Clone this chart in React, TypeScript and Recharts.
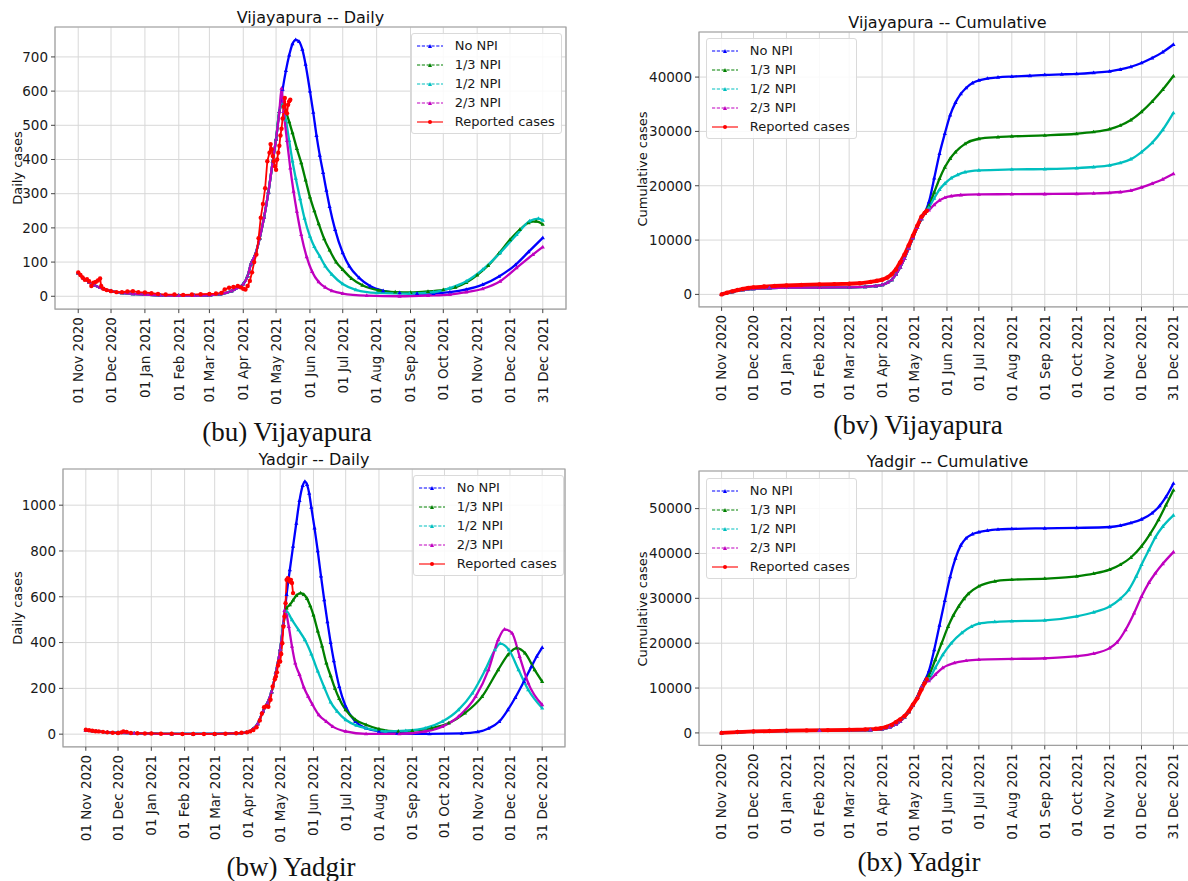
import React from "react";
import { LineChart, Line, XAxis, YAxis, CartesianGrid, ReferenceArea } from "recharts";

// x axis: day index counted from 01 Nov 2020
const tickDays = [0, 30, 61, 92, 120, 151, 181, 212, 242, 273, 304, 334, 365, 395, 425];
const tickLabels = [
  "01 Nov 2020", "01 Dec 2020", "01 Jan 2021", "01 Feb 2021", "01 Mar 2021",
  "01 Apr 2021", "01 May 2021", "01 Jun 2021", "01 Jul 2021", "01 Aug 2021",
  "01 Sep 2021", "01 Oct 2021", "01 Nov 2021", "01 Dec 2021", "31 Dec 2021",
];
const seriesNames = ["No NPI", "1/3 NPI", "1/2 NPI", "2/3 NPI", "Reported cases"];
const seriesColors = ["#0000ff", "#008000", "#00bfbf", "#bf00bf", "#ff0000"];

// ---- Vijayapura daily ----
const vjDailyBaseDays = [0, 5, 10, 15, 20, 30, 40, 50, 61, 75, 92, 106, 120, 130, 140, 146, 151, 155, 158, 162, 166, 170, 174, 178, 181, 184];
const vjDailyBase = [68, 52, 41, 32, 25, 15, 10, 7, 5, 3, 2, 2, 3, 6, 15, 25, 36, 60, 95, 122, 170, 230, 305, 395, 460, 540];
const vjNoNpiDays = [187, 190, 193, 196, 199, 202, 205, 208, 212, 215, 218, 221, 224, 227, 230, 235, 242, 248, 257, 267, 279, 294, 310, 325, 340, 355, 370, 385, 400, 412, 425];
const vjNoNpi = [605, 660, 705, 738, 750, 745, 722, 678, 600, 538, 470, 412, 362, 310, 262, 195, 127, 88, 54, 30, 16, 10, 8, 8, 12, 20, 34, 58, 92, 130, 171];
const vjThirdDays = [187, 190, 193, 196, 200, 204, 208, 212, 216, 220, 225, 230, 236, 242, 250, 260, 275, 290, 304, 320, 334, 345, 355, 365, 375, 385, 395, 404, 412, 419, 425];
const vjThird = [560, 540, 510, 478, 432, 390, 340, 290, 250, 212, 168, 135, 100, 78, 52, 32, 17, 12, 11, 14, 19, 26, 40, 62, 90, 126, 165, 195, 215, 219, 210];
const vjHalfDays = [187, 190, 193, 196, 199, 203, 207, 212, 216, 221, 226, 232, 242, 254, 273, 303, 325, 340, 355, 370, 386, 401, 413, 421, 425];
const vjHalf = [560, 515, 455, 395, 345, 285, 228, 175, 145, 117, 88, 64, 36, 19, 10, 8, 12, 24, 44, 78, 127, 180, 220, 227, 222];
const vjTwoThirdDays = [186, 188, 191, 194, 197, 200, 204, 209, 214, 220, 226, 232, 242, 264, 294, 320, 340, 355, 370, 386, 401, 416, 425];
const vjTwoThird = [608, 540, 455, 375, 307, 248, 180, 115, 72, 42, 26, 16, 8, 2, 0, 2, 5, 12, 22, 44, 83, 122, 144];
const vjRepDays = [0, 2, 4, 6, 8, 10, 12, 14, 16, 18, 20, 21, 23, 26, 30, 35, 40, 45, 50, 55, 61, 67, 73, 80, 88, 96, 104, 112, 120, 126, 131, 134, 138, 142, 146, 149, 151, 153, 155, 157, 159, 161, 163, 165, 167, 169, 171, 173, 175, 176, 177, 178, 179, 180, 181, 182, 183, 184, 185, 186, 187, 188, 189, 190, 191, 192, 193, 194];
const vjRep = [70, 62, 55, 48, 50, 44, 30, 40, 42, 46, 52, 30, 22, 18, 15, 12, 12, 14, 15, 12, 11, 9, 7, 5, 5, 4, 5, 6, 7, 8, 10, 20, 25, 27, 30, 26, 22, 20, 30, 45, 70, 100, 122, 170, 230, 270, 316, 395, 420, 445, 430, 410, 395, 380, 370, 400, 420, 440, 470, 490, 520, 555, 580, 540, 535, 560, 570, 575];

// ---- Vijayapura cumulative ----
const vjCumBaseDays = [0, 10, 20, 30, 45, 61, 92, 120, 135, 145, 151, 156, 160, 164, 168, 172, 176, 180, 184, 188];
const vjCumBase = [0, 480, 820, 1020, 1150, 1230, 1260, 1300, 1400, 1550, 1750, 2150, 2700, 3700, 5000, 6600, 8500, 10400, 12300, 13900];
const vjCumNoNpiDays = [191, 195, 200, 205, 210, 215, 220, 225, 230, 236, 242, 250, 260, 273, 290, 304, 320, 334, 350, 365, 375, 385, 395, 405, 415, 425];
const vjCumNoNpi = [15000, 17000, 21400, 25900, 29600, 33000, 35300, 36900, 38000, 38900, 39400, 39750, 39950, 40100, 40250, 40400, 40500, 40600, 40800, 41050, 41400, 41900, 42600, 43500, 44600, 46000];
const vjCumThirdDays = [191, 195, 200, 205, 210, 215, 220, 229, 242, 260, 273, 304, 334, 350, 365, 375, 385, 395, 405, 415, 425];
const vjCumThird = [14950, 16300, 18800, 21300, 23400, 25000, 26200, 27700, 28650, 28950, 29080, 29260, 29570, 29900, 30430, 31100, 32100, 33600, 35500, 37700, 40200];
const vjCumHalfDays = [191, 195, 200, 205, 210, 216, 222, 229, 242, 273, 304, 334, 350, 365, 375, 385, 395, 405, 415, 425];
const vjCumHalf = [14900, 16000, 17700, 19300, 20400, 21400, 22000, 22500, 22820, 23000, 23070, 23250, 23450, 23750, 24200, 24900, 26200, 27900, 30300, 33400];
const vjCumTwoThirdDays = [191, 195, 200, 205, 210, 216, 225, 242, 273, 304, 334, 350, 365, 375, 385, 395, 405, 415, 425];
const vjCumTwoThird = [14850, 15500, 16500, 17300, 17800, 18100, 18300, 18400, 18450, 18480, 18530, 18600, 18710, 18850, 19100, 19700, 20400, 21200, 22200];
const vjCumRepDays = [0, 5, 10, 15, 20, 25, 30, 40, 50, 61, 75, 92, 106, 120, 130, 140, 146, 151, 156, 160, 164, 168, 172, 176, 180, 184, 188, 191, 193];
const vjCumRep = [0, 300, 560, 800, 1000, 1180, 1300, 1450, 1560, 1650, 1750, 1840, 1900, 1960, 2050, 2300, 2500, 2700, 3100, 3700, 4600, 5900, 7300, 9000, 10800, 12600, 14300, 15000, 15400];

// ---- Yadgir daily ----
const ydDailyBaseDays = [0, 10, 20, 30, 45, 61, 80, 100, 120, 140, 150, 155, 160, 165, 169, 173, 177, 181, 184];
const ydDailyBase = [15, 11, 8, 6, 4, 2, 1, 1, 1, 3, 8, 20, 45, 100, 135, 185, 270, 370, 480];
const ydNoNpiDays = [187, 190, 193, 196, 199, 202, 204, 206, 208, 210, 213, 216, 219, 222, 225, 228, 231, 236, 242, 251, 261, 273, 290, 320, 350, 365, 375, 385, 393, 400, 408, 415, 420, 425];
const ydNoNpi = [610, 718, 820, 921, 1020, 1085, 1103, 1090, 1052, 990, 900, 800, 690, 587, 490, 400, 320, 208, 121, 55, 26, 12, 4, 1, 3, 10, 25, 55, 106, 160, 230, 295, 340, 378];
const ydThirdDays = [187, 190, 193, 196, 200, 203, 206, 209, 212, 216, 220, 224, 228, 232, 236, 242, 251, 261, 273, 291, 304, 322, 338, 353, 369, 384, 393, 401, 409, 418, 425];
const ydThird = [550, 565, 585, 605, 616, 610, 592, 560, 520, 450, 385, 310, 255, 200, 155, 106, 63, 41, 22, 12, 15, 26, 48, 92, 164, 281, 346, 376, 354, 281, 230];
const ydHalfDays = [187, 192, 198, 204, 210, 216, 222, 228, 234, 242, 252, 261, 279, 298, 316, 332, 347, 360, 372, 381, 386, 394, 403, 412, 425];
const ydHalf = [536, 499, 456, 412, 350, 275, 205, 140, 100, 63, 38, 26, 12, 15, 26, 55, 106, 179, 281, 368, 395, 368, 281, 194, 114];
const ydTwoThirdDays = [185, 187, 189, 192, 195, 199, 203, 207, 211, 217, 224, 230, 242, 261, 292, 316, 332, 347, 363, 375, 384, 390, 397, 404, 412, 425];
const ydTwoThird = [540, 520, 470, 383, 310, 260, 205, 165, 130, 84, 55, 33, 12, 1, 1, 12, 33, 77, 164, 281, 412, 458, 441, 339, 223, 128];
const ydRepDays = [0, 3, 6, 9, 12, 16, 20, 25, 30, 33, 35, 38, 42, 48, 55, 61, 70, 80, 90, 100, 110, 120, 130, 140, 145, 150, 153, 156, 159, 162, 164, 166, 168, 170, 172, 174, 176, 177, 178, 179, 180, 181, 182, 183, 184, 185, 186, 187, 188, 189, 190, 191, 192, 193];
const ydRep = [19, 17, 15, 13, 12, 10, 8, 6, 5, 8, 12, 10, 5, 4, 3, 3, 2, 2, 1, 1, 1, 1, 2, 4, 6, 8, 12, 18, 30, 60, 90, 118, 122, 120, 150, 208, 240, 252, 270, 300, 317, 317, 350, 397, 470, 514, 572, 674, 681, 677, 667, 674, 660, 616];

// ---- Yadgir cumulative ----
const ydCumBaseDays = [0, 15, 30, 61, 92, 120, 140, 151, 158, 164, 168, 172, 176, 180, 184, 188];
const ydCumBase = [0, 200, 320, 470, 540, 570, 650, 850, 1250, 1900, 2600, 3500, 4700, 6200, 8000, 10200];
const ydCumNoNpiDays = [191, 195, 200, 205, 210, 215, 220, 225, 230, 236, 242, 250, 260, 273, 304, 334, 365, 375, 385, 395, 405, 412, 418, 425];
const ydCumNoNpi = [11600, 13800, 18500, 24000, 29500, 34800, 38900, 41800, 43400, 44300, 44750, 45100, 45350, 45470, 45600, 45700, 45900, 46200, 46800, 47600, 49000, 50600, 52600, 55600];
const ydCumThirdDays = [191, 195, 201, 207, 213, 218, 223, 228, 232, 242, 257, 273, 304, 334, 350, 365, 375, 385, 395, 403, 411, 418, 425];
const ydCumThird = [11400, 12800, 16300, 20000, 23700, 26200, 28200, 29900, 31000, 32700, 33800, 34150, 34400, 34900, 35500, 36400, 37500, 39100, 41600, 44300, 47500, 50800, 54100];
const ydCumHalfDays = [191, 195, 201, 208, 216, 226, 235, 242, 257, 273, 304, 334, 350, 365, 375, 383, 390, 395, 402, 408, 415, 425];
const ydCumHalf = [11300, 12000, 14500, 17400, 20000, 22300, 23700, 24370, 24750, 24900, 25100, 26000, 26900, 28200, 29900, 31900, 34900, 37500, 40800, 43600, 46000, 48500];
const ydCumTwoThirdDays = [191, 195, 201, 208, 219, 230, 242, 273, 304, 334, 350, 365, 372, 380, 388, 395, 402, 408, 415, 425];
const ydCumTwoThird = [11300, 11600, 13000, 14500, 15600, 16100, 16340, 16490, 16640, 17100, 17700, 18900, 20200, 23000, 26700, 30400, 33500, 35600, 37700, 40300];
const ydCumRepDays = [0, 15, 30, 45, 61, 80, 100, 120, 135, 145, 150, 155, 160, 164, 168, 172, 176, 180, 184, 188, 191, 193];
const ydCumRep = [0, 200, 330, 420, 500, 560, 620, 700, 800, 920, 1040, 1350, 1800, 2400, 3000, 3700, 4800, 6300, 7700, 9700, 11100, 12000];

type Pt = { d: number; v: number };
const pts = (days: number[], vals: number[]): Pt[] => days.map((d, i) => ({ d, v: vals[i] }));

const xDomain: [number, number] = [-21.25, 446.25];

function XTick(props: any) {
  const { x, y, payload } = props;
  const label = tickLabels[tickDays.indexOf(payload.value)];
  const ty = y + 2;
  return (
    <text x={x} y={ty} transform={`rotate(-90 ${x} ${ty})`} textAnchor="end" dy="0.36em" fontSize={13.5} fill="#1a1a1a">
      {label}
    </text>
  );
}

// small triangle marker, like matplotlib's "^"
const triangleDot = (color: string) => (props: any) => {
  const { cx, cy, index } = props;
  if (cx == null || cy == null) return <g key={index} />;
  return <polygon key={index} points={`${cx},${cy - 2.3} ${cx + 2.1},${cy + 1.4} ${cx - 2.1},${cy + 1.4}`} fill={color} />;
};

function LegendBox({ left, top }: { left: number; top: number }) {
  return (
    <div
      style={{
        position: "absolute", left, top, padding: "2px 6px 2px 4px",
        border: "1px solid #dadada", borderRadius: 3, background: "rgba(255,255,255,0.85)",
        fontSize: 13, color: "#1a1a1a", lineHeight: "19px",
      }}
    >
      {seriesNames.map((name, i) => (
        <div key={name} style={{ display: "flex", alignItems: "center", height: 19, whiteSpace: "nowrap" }}>
          <svg width={28} height={10} style={{ marginRight: 11 }}>
            <line x1={1} y1={5} x2={27} y2={5} stroke={seriesColors[i]} strokeWidth={1.1}
              strokeDasharray={i < 4 ? "3.2 1.6" : undefined} />
            {i < 4 ? (
              <polygon points="14,3 16,7 12,7" fill={seriesColors[i]} />
            ) : (
              <circle cx={14} cy={5} r={2} fill={seriesColors[i]} />
            )}
          </svg>
          <span>{name}</span>
        </div>
      ))}
    </div>
  );
}

type PanelProps = {
  plot: { x: number; y: number; w: number; h: number };
  yDomain: [number, number];
  yTicks: number[];
  title: string;
  titleGap: number;
  yLabel: string;
  yLabelX: number;
  legend: { x: number; y: number };
  caption: string;
  captionPos: { x: number; y: number };
  series: Pt[][];
  cumulative?: boolean;
};

function Panel(p: PanelProps) {
  const yW = 62;
  const mTop = 10;
  const mRight = 6;
  const xH = 110;
  const cw = p.plot.w + yW + mRight;
  const ch = mTop + p.plot.h + xH;
  return (
    <>
      <div style={{ position: "absolute", left: p.plot.x - yW, top: p.plot.y - mTop }}>
        <LineChart width={cw} height={ch} margin={{ top: mTop, right: mRight, bottom: 0, left: 0 }}>
          <CartesianGrid stroke="#d8d8d8" strokeWidth={1} />
          <XAxis
            type="number" dataKey="d" domain={xDomain} ticks={tickDays} allowDataOverflow interval={0}
            height={xH} tick={<XTick />} tickSize={4} tickLine={{ stroke: "#444" }} axisLine={false}
          />
          <YAxis
            type="number" dataKey="v" domain={p.yDomain} ticks={p.yTicks} allowDataOverflow interval={0}
            width={yW} tickSize={4} tickMargin={3} tick={{ fontSize: 13.5, fill: "#1a1a1a" }}
            tickLine={{ stroke: "#444" }} axisLine={false}
          />
          <ReferenceArea
            x1={xDomain[0]} x2={xDomain[1]} y1={p.yDomain[0]} y2={p.yDomain[1]}
            fill="none" stroke="#a0a0a0" strokeWidth={1.2} ifOverflow="visible"
          />
          {p.series.slice(0, 4).map((s, i) => (
            <Line
              key={seriesNames[i]} data={s} dataKey="v" type="monotone" stroke={seriesColors[i]}
              strokeWidth={2.3} dot={triangleDot(seriesColors[i])} activeDot={false} isAnimationActive={false}
            />
          ))}
          <Line
            data={p.series[4]} dataKey="v" type="linear" stroke={seriesColors[4]}
            strokeWidth={p.cumulative ? 3.8 : 1.8}
            dot={{ r: 2.2, fill: seriesColors[4], stroke: "none" }} activeDot={false} isAnimationActive={false}
          />
        </LineChart>
      </div>
      <div
        style={{
          position: "absolute", left: p.plot.x + p.plot.w / 2, top: p.plot.y - p.titleGap,
          transform: "translate(-50%, -50%)", fontSize: 16, lineHeight: "18px", whiteSpace: "nowrap", color: "#111",
        }}
      >
        {p.title}
      </div>
      <div
        style={{
          position: "absolute", left: p.yLabelX, top: p.plot.y + p.plot.h / 2,
          transform: "translate(-50%, -50%) rotate(-90deg)", fontSize: 13, whiteSpace: "nowrap", color: "#111",
        }}
      >
        {p.yLabel}
      </div>
      <LegendBox left={p.legend.x} top={p.legend.y} />
      <div
        style={{
          position: "absolute", left: p.captionPos.x, top: p.captionPos.y,
          transform: "translate(-50%, -50%)", fontFamily: "'Liberation Serif', serif", fontSize: 27,
          whiteSpace: "nowrap", color: "#111",
        }}
      >
        {p.caption}
      </div>
    </>
  );
}

export default function App() {
  const vjDaily = [
    pts([...vjDailyBaseDays, ...vjNoNpiDays], [...vjDailyBase, ...vjNoNpi]),
    pts([...vjDailyBaseDays, ...vjThirdDays], [...vjDailyBase, ...vjThird]),
    pts([...vjDailyBaseDays, ...vjHalfDays], [...vjDailyBase, ...vjHalf]),
    pts([...vjDailyBaseDays, ...vjTwoThirdDays], [...vjDailyBase, ...vjTwoThird]),
    pts(vjRepDays, vjRep),
  ];
  const vjCum = [
    pts([...vjCumBaseDays, ...vjCumNoNpiDays], [...vjCumBase, ...vjCumNoNpi]),
    pts([...vjCumBaseDays, ...vjCumThirdDays], [...vjCumBase, ...vjCumThird]),
    pts([...vjCumBaseDays, ...vjCumHalfDays], [...vjCumBase, ...vjCumHalf]),
    pts([...vjCumBaseDays, ...vjCumTwoThirdDays], [...vjCumBase, ...vjCumTwoThird]),
    pts(vjCumRepDays, vjCumRep),
  ];
  const ydDaily = [
    pts([...ydDailyBaseDays, ...ydNoNpiDays], [...ydDailyBase, ...ydNoNpi]),
    pts([...ydDailyBaseDays, ...ydThirdDays], [...ydDailyBase, ...ydThird]),
    pts([...ydDailyBaseDays, ...ydHalfDays], [...ydDailyBase, ...ydHalf]),
    pts([...ydDailyBaseDays, ...ydTwoThirdDays], [...ydDailyBase, ...ydTwoThird]),
    pts(ydRepDays, ydRep),
  ];
  const ydCum = [
    pts([...ydCumBaseDays, ...ydCumNoNpiDays], [...ydCumBase, ...ydCumNoNpi]),
    pts([...ydCumBaseDays, ...ydCumThirdDays], [...ydCumBase, ...ydCumThird]),
    pts([...ydCumBaseDays, ...ydCumHalfDays], [...ydCumBase, ...ydCumHalf]),
    pts([...ydCumBaseDays, ...ydCumTwoThirdDays], [...ydCumBase, ...ydCumTwoThird]),
    pts(ydCumRepDays, ydCumRep),
  ];

  return (
    <div
      style={{
        position: "absolute", left: 0, top: 0, width: 1188, height: 881, overflow: "hidden",
        background: "#ffffff", fontFamily: "'DejaVu Sans', sans-serif",
      }}
    >
      <Panel
        plot={{ x: 55, y: 27.4, w: 511, h: 282.1 }} yDomain={[-37.5, 787.5]}
        yTicks={[0, 100, 200, 300, 400, 500, 600, 700]} title="Vijayapura -- Daily" titleGap={9.5} yLabel="Daily cases"
        yLabelX={17} legend={{ x: 410.7, y: 33.3 }} caption="(bu) Vijayapura" captionPos={{ x: 287, y: 432 }}
        series={vjDaily}
      />
      <Panel
        plot={{ x: 699, y: 31.6, w: 497, h: 274.9 }} yDomain={[-2300, 48300]}
        yTicks={[0, 10000, 20000, 30000, 40000]} title="Vijayapura -- Cumulative" titleGap={9} yLabel="Cumulative cases"
        yLabelX={642} legend={{ x: 705.7, y: 38.3 }} caption="(bv) Vijayapura" captionPos={{ x: 918, y: 425 }}
        series={vjCum} cumulative
      />
      <Panel
        plot={{ x: 63, y: 469.1, w: 502, h: 277.8 }} yDomain={[-55.2, 1158]}
        yTicks={[0, 200, 400, 600, 800, 1000]} title="Yadgir -- Daily" titleGap={9} yLabel="Daily cases"
        yLabelX={17} legend={{ x: 412.7, y: 475 }} caption="(bw) Yadgir" captionPos={{ x: 291, y: 867 }}
        series={ydDaily}
      />
      <Panel
        plot={{ x: 699, y: 471.4, w: 497, h: 274.4 }} yDomain={[-2780, 58380]}
        yTicks={[0, 10000, 20000, 30000, 40000, 50000]} title="Yadgir -- Cumulative" titleGap={9} yLabel="Cumulative cases"
        yLabelX={642} legend={{ x: 705.7, y: 478.3 }} caption="(bx) Yadgir" captionPos={{ x: 919, y: 862 }}
        series={ydCum} cumulative
      />
    </div>
  );
}
